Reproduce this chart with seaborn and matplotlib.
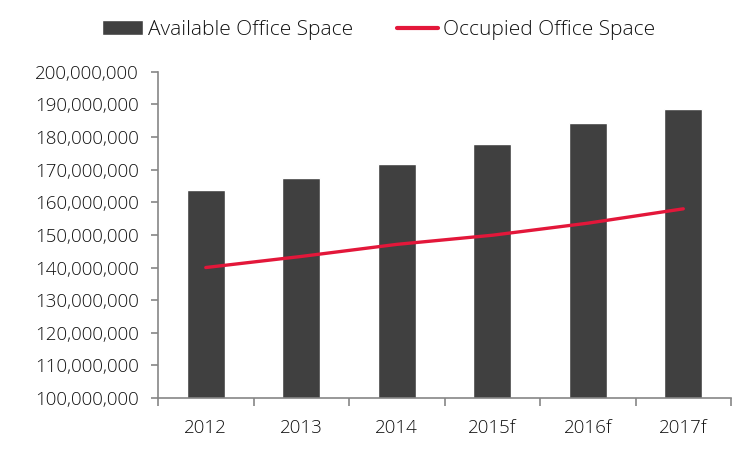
import matplotlib
matplotlib.use("Agg")
import matplotlib.pyplot as plt
from matplotlib.patches import Patch
from matplotlib.lines import Line2D
from matplotlib.ticker import FuncFormatter, MultipleLocator, FixedLocator
import seaborn as sns

years = ["2012", "2013", "2014", "2015f", "2016f", "2017f"]
available = [163800000, 167500000, 171800000, 177900000, 184300000, 188600000]
occupied = [140000000, 143400000, 147100000, 149900000, 153600000, 158000000]

bar_color = "#404040"
line_color = "#E3173A"
axis_color = "#868686"
text_color = "#111111"

sns.set_style("white")
plt.rcParams["font.family"] = ["Open Sans", "DejaVu Sans"]
plt.rcParams["font.weight"] = "light"

fig = plt.figure(figsize=(7.5, 4.49), dpi=100)
ax = fig.add_axes([0.2107, 0.1136, 0.764, 0.7264])

sns.barplot(x=years, y=available, color=bar_color, width=0.4, saturation=1, ax=ax)
sns.pointplot(x=years, y=occupied, color=line_color, markers="", linestyles="-", ax=ax)
for ln in ax.lines:
    ln.set_linewidth(2.4)
    ln.set_solid_capstyle("round")

ax.set_ylim(100000000, 200000000)
ax.set_xlim(-0.5, 5.5)
ax.yaxis.set_major_locator(MultipleLocator(10000000))
ax.yaxis.set_major_formatter(FuncFormatter(lambda v, p: f"{int(v):,}"))
ax.xaxis.set_minor_locator(FixedLocator([i - 0.5 for i in range(7)]))

sns.despine(ax=ax)
for s in ["left", "bottom"]:
    ax.spines[s].set_color(axis_color)
    ax.spines[s].set_linewidth(1.2)

ax.tick_params(axis="y", which="major", direction="out", length=5, width=1.2,
               color=axis_color, labelsize=13.5, labelcolor=text_color, pad=9, left=True)
ax.tick_params(axis="x", which="major", length=0, labelsize=13.5, labelcolor=text_color, pad=15)
ax.tick_params(axis="x", which="minor", direction="out", length=6, width=1.2,
               color=axis_color, bottom=True)
ax.set_xlabel("")
ax.set_ylabel("")

handles = [Patch(facecolor=bar_color, label="Available Office Space"),
           Line2D([0], [0], color=line_color, lw=3, label="Occupied Office Space")]
leg = fig.legend(handles=handles, loc="center", bbox_to_anchor=(0.505, 0.933), ncol=2,
                 frameon=False, fontsize=15, handlelength=1.95, columnspacing=2.1,
                 handletextpad=0.25)
for t in leg.get_texts():
    t.set_color(text_color)

fig.savefig("out.png", dpi=100)
